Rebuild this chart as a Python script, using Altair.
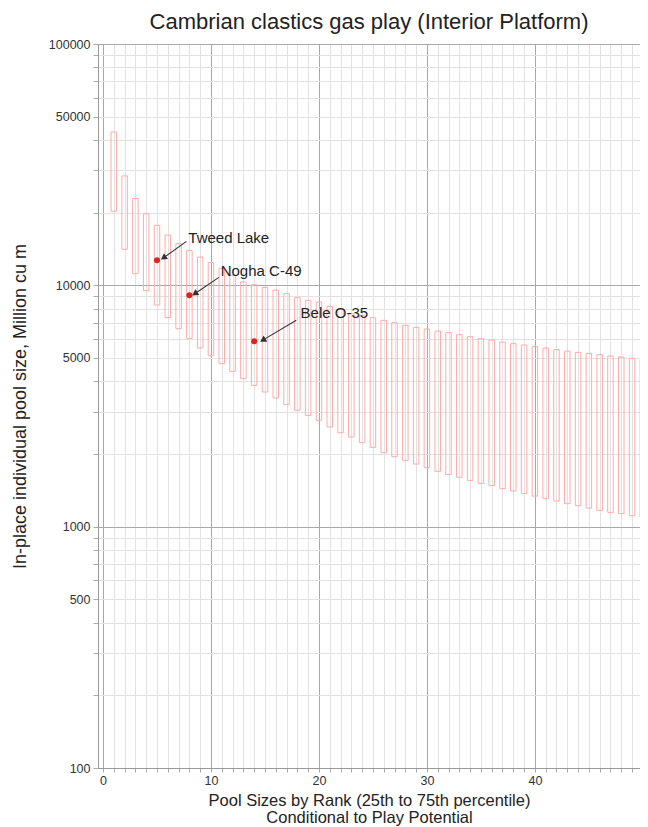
import altair as alt
import pandas as pd

# ---- data ----
ranks = list(range(1, 51))
p75 = [43200, 28400, 22900, 19800, 17730, 16160, 14890, 13960, 13100, 12420,
       11760, 11000, 10320, 10050, 9800, 9550, 9240, 8890, 8665, 8526,
       8180, 7930, 7630, 7507, 7350, 7160, 7004, 6826, 6698, 6590,
       6465, 6368, 6247, 6128, 6012, 5933, 5821, 5733, 5657, 5572,
       5498, 5414, 5342, 5276, 5226, 5162, 5093, 5045, 4982, 4920]
p25 = [20270, 14100, 11180, 9500, 8290, 7350, 6615, 6015, 5500, 5110,
       4737, 4400, 4105, 3850, 3612, 3412, 3203, 3034, 2892, 2758,
       2587, 2452, 2350, 2229, 2131, 2026, 1950, 1877, 1817, 1756,
       1696, 1647, 1601, 1555, 1512, 1479, 1437, 1405, 1370, 1339,
       1306, 1277, 1245, 1222, 1194, 1168, 1146, 1132, 1110, 1096]

pool_names = ["Tweed Lake", "Nogha C-49", "Bele O-35"]
pool_rank = [5, 8, 14]
pool_size = [12690, 9090, 5860]

label_rank = [7.9, 10.9, 18.3]
label_size = [15660, 11430, 7655]
arrow_from_rank = [7.73, 10.73, 17.9]
arrow_from_size = [15210, 10790, 7160]
arrow_to_rank = [5.6, 8.5, 14.8]
arrow_to_size = [13000, 9230, 5930]
arrow_angle = [236, 237, 240]

x_ticks = list(range(0, 51))
y_ticks = [100, 200, 300, 400, 500, 600, 700, 800, 900,
           1000, 2000, 3000, 4000, 5000, 6000, 7000, 8000, 9000,
           10000, 20000, 30000, 40000, 50000, 60000, 70000, 80000, 90000,
           100000]

box_df = pd.DataFrame({"rank": ranks, "p75": p75, "p25": p25})
pool_df = pd.DataFrame({"name": pool_names, "rank": pool_rank, "size": pool_size})
ann_df = pd.DataFrame({
    "name": pool_names,
    "lx": label_rank, "ly": label_size,
    "ax": arrow_from_rank, "ay": arrow_from_size,
    "bx": arrow_to_rank, "by": arrow_to_size,
    "ang": arrow_angle,
})

FONT = "Liberation Sans"

# the page is 632px wide inside its margins: the plot runs to the page edge
# at 11 px per rank, so the visible part of the rank axis ends just before 50
PLOT_W = 542
xs = alt.Scale(domain=[0, PLOT_W / 11], nice=False, zero=False)
ys = alt.Scale(type="log", domain=[100, 100000], nice=False)

x_axis = alt.Axis(
    values=x_ticks,
    labelExpr="datum.value % 10 === 0 ? datum.label : ''",
    gridColor={"condition": {"test": "datum.value % 10 === 0", "value": "#a8a8a8"},
               "value": "#e2e2e2"},
    tickSize=4, labelPadding=2, labelFontSize=12.5, labelColor="#333",
    labelFont=FONT, labelOverlap=False, labelFlush=False, tickColor="#aaa", domainColor="#999",
    title=["Pool Sizes by Rank (25th to 75th percentile)", "Conditional to Play Potential"],
    titleFont=FONT, titleFontSize=16.5, titleFontWeight="normal", titleColor="#222",
    titleLineHeight=16.5, titlePadding=6,
)
y_axis = alt.Axis(
    values=y_ticks,
    labelExpr="indexof([100,500,1000,5000,10000,50000,100000], datum.value) >= 0 ? format(datum.value, 'd') : ''",
    gridColor={"condition": {"test": "datum.value == 100 || datum.value == 1000 || datum.value == 10000 || datum.value == 100000",
                             "value": "#a8a8a8"},
               "value": "#e2e2e2"},
    tickSize=5, labelPadding=3, labelFontSize=12.5, labelColor="#333",
    labelFont=FONT, labelOverlap=False, labelFlush=False, tickColor="#aaa", domainColor="#999",
    title="In-place individual pool size, Million cu m",
    titleFont=FONT, titleFontSize=18, titleFontWeight="normal", titleColor="#222",
    titlePadding=19,
)


def X(field):
    return alt.X(field, type="quantitative", scale=xs, axis=x_axis)


def Y(field):
    return alt.Y(field, type="quantitative", scale=ys, axis=y_axis)


boxes = alt.Chart(box_df).mark_bar(
    size=5.5, fillOpacity=0, stroke="#ffaaaa", strokeWidth=1, clip=True
).encode(x=X("rank"), y=Y("p25"), y2="p75:Q")

arrows = alt.Chart(ann_df).mark_rule(color="#333", strokeWidth=1.1).encode(
    x=X("ax"), y=Y("ay"), x2="bx:Q", y2="by:Q",
)

heads = alt.Chart(ann_df).mark_point(
    shape="triangle-up", filled=True, color="#333", size=50, opacity=1
).encode(
    x=X("bx"), y=Y("by"),
    angle=alt.Angle("ang:Q", scale=None),
)

dots = alt.Chart(pool_df).mark_point(
    shape="circle", filled=True, color="#d7261e", size=36, opacity=1
).encode(x=X("rank"), y=Y("size"))

labels = alt.Chart(ann_df).mark_text(
    align="left", baseline="middle", fontSize=15, font=FONT, color="#222"
).encode(x=X("lx"), y=Y("ly"), text="name:N")

chart = alt.layer(boxes, arrows, heads, dots, labels).properties(
    width=PLOT_W, height=724,
    autosize=alt.AutoSizeParams(type="none"),
    padding={"left": 90, "top": 36, "right": 0, "bottom": 59},
    title=alt.TitleParams(
        "Cambrian clastics gas play (Interior Platform)",
        font=FONT, fontSize=22, fontWeight="normal", color="#222",
        anchor="middle", offset=4,
    ),
).configure_view(strokeWidth=0).configure(background="white")

chart.save("out.html", embed_options={"renderer": "svg", "actions": False})
